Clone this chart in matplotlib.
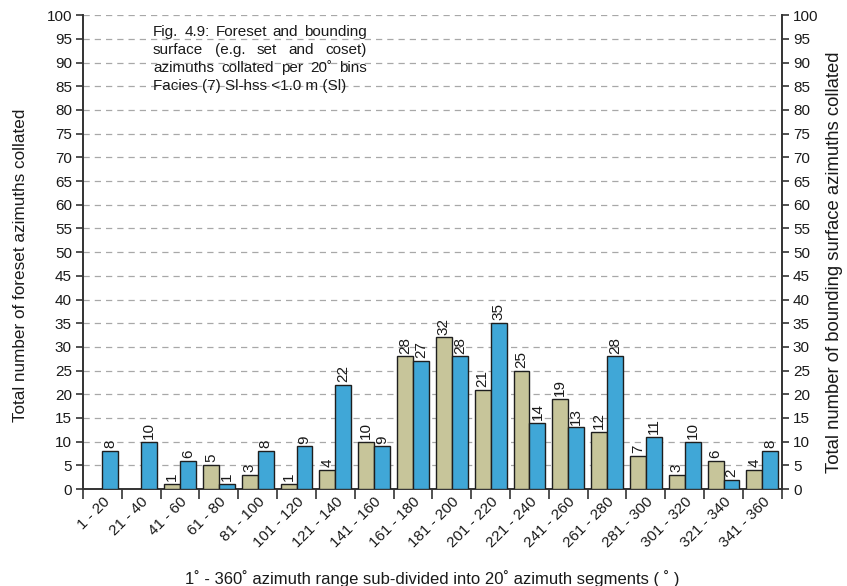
import numpy as np
import matplotlib
matplotlib.use("Agg")
import matplotlib.pyplot as plt

plt.rcParams['font.family'] = ['Liberation Sans', 'DejaVu Sans']

bins = ["1 - 20", "21 - 40", "41 - 60", "61 - 80", "81 - 100", "101 - 120",
        "121 - 140", "141 - 160", "161 - 180", "181 - 200", "201 - 220",
        "221 - 240", "241 - 260", "261 - 280", "281 - 300", "301 - 320",
        "321 - 340", "341 - 360"]
foreset = [0, 0, 1, 5, 3, 1, 4, 10, 28, 32, 21, 25, 19, 12, 7, 3, 6, 4]
bounding = [8, 10, 6, 1, 8, 9, 22, 9, 27, 28, 35, 14, 13, 28, 11, 10, 2, 8]
yticks = list(range(0, 101, 5))

khaki = "#c7c59a"
blue = "#40a7d7"
edge = "#1e1e1e"
axis_col = "#333333"
text_col = "#1a1a1a"

fig = plt.figure(figsize=(8.47, 5.86), dpi=100)
ax = fig.add_axes([0.098, 0.1655, 0.825, 0.8085])
ax2 = ax.twinx()

x = np.arange(len(bins))
w = 0.41
off = 0.205

fs = np.array(foreset, dtype=float)
bs = np.array(bounding, dtype=float)
fs_draw = np.where(fs > 0, fs, np.nan)
ax.bar(x - off, fs_draw, w, color=khaki, edgecolor=edge, linewidth=1.0, zorder=3)
ax.bar(x + off, bs, w, color=blue, edgecolor=edge, linewidth=1.0, zorder=3)

for xi, v in zip(x, foreset):
    if v > 0:
        ax.text(xi - off, v + 0.6, str(v), rotation=90, ha='center', va='bottom',
                fontsize=11, color=text_col, zorder=4)
for xi, v in zip(x, bounding):
    if v > 0:
        ax.text(xi + off, v + 0.6, str(v), rotation=90, ha='center', va='bottom',
                fontsize=11, color=text_col, zorder=4)

ax.set_xlim(-0.5, len(bins) - 0.5)
for a in (ax, ax2):
    a.set_ylim(0, 100)
    a.set_yticks(yticks)
    a.tick_params(axis='y', labelsize=11, length=5, width=1.2, color=axis_col, pad=3,
                  labelcolor=text_col)
    for s in a.spines.values():
        s.set_visible(False)

ax.grid(axis='y', linestyle=(0, (5, 4)), color="#a8a8a8", linewidth=0.9, zorder=0)
ax.set_axisbelow(True)

ax.spines['left'].set_visible(True)
ax.spines['left'].set_color(axis_col)
ax.spines['left'].set_linewidth(1.4)
ax.spines['bottom'].set_visible(True)
ax.spines['bottom'].set_color(axis_col)
ax.spines['bottom'].set_linewidth(1.4)
ax2.spines['right'].set_visible(True)
ax2.spines['right'].set_color(axis_col)
ax2.spines['right'].set_linewidth(1.4)

# category boundaries as ticks, names at the centres
ax.set_xticks(np.arange(-0.5, len(bins), 1.0))
ax.set_xticklabels([])
ax.tick_params(axis='x', which='major', length=7, width=1.2, color=axis_col, direction='out')
ax.set_xticks(x, minor=True)
ax.set_xticklabels(bins, minor=True, rotation=45, ha='right', va='top',
                   rotation_mode='anchor', fontsize=11, color=text_col)
ax.tick_params(axis='x', which='minor', length=0, pad=4)

ax.set_xlabel("1˚ - 360˚ azimuth range sub-divided into 20˚ azimuth segments ( ˚ )",
              fontsize=12, color=text_col, va='center')
ax.xaxis.set_label_coords(0.5, -0.188)
ax.set_ylabel("Total number of foreset azimuths collated", fontsize=12.3,
              color=text_col, va='center', ha='center')
ax.yaxis.set_label_coords(-0.090, 0.473)
ax2.set_ylabel("Total number of bounding surface azimuths collated", fontsize=13.3,
               color=text_col, va='center', ha='center')
ax2.yaxis.set_label_coords(1.076, 0.479)

# justified caption block
caption = ["Fig. 4.9: Foreset and bounding",
           "surface (e.g. set and coset)",
           "azimuths collated per 20˚ bins",
           "Facies (7) Sl-hss <1.0 m (Sl)"]
fig.canvas.draw()
renderer = fig.canvas.get_renderer()
x0_px = 153
width_px = 214
top_px = 32
line_h = 18
H = fig.bbox.height
for i, line in enumerate(caption):
    y_fig = (H - (top_px + i * line_h)) / H
    words = line.split(" ")
    if i == len(caption) - 1:
        fig.text(x0_px / fig.bbox.width, y_fig, line, fontsize=11, ha='left',
                 va='center', color=text_col)
        continue
    widths = []
    for wd in words:
        t = fig.text(0, 0, wd, fontsize=11)
        widths.append(t.get_window_extent(renderer).width)
        t.remove()
    gap = (width_px - sum(widths)) / (len(words) - 1)
    cx = x0_px
    for wd, ww in zip(words, widths):
        fig.text(cx / fig.bbox.width, y_fig, wd, fontsize=11, ha='left',
                 va='center', color=text_col)
        cx += ww + gap

fig.savefig("out.png", dpi=100)
